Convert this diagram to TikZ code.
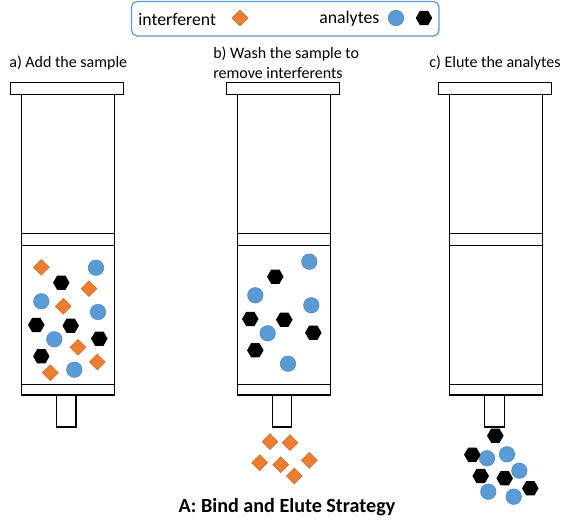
\documentclass[tikz,border=0pt]{standalone}
\usepackage{fontspec}
\setmainfont{Carlito}
\usepackage{xcolor}
\usetikzlibrary{shapes.geometric}
\definecolor{interfcol}{HTML}{ED7D31}
\definecolor{interfedge}{HTML}{C9692B}
\definecolor{analytecol}{HTML}{5B9BD5}
\definecolor{analyteedge}{HTML}{4A86BC}
\tikzset{
  wall/.style={black,line width=0.8pt},
  interf/.style={diamond,draw=interfedge,fill=interfcol,line width=0.3pt,inner sep=0pt,minimum size=0.32cm},
  bluedot/.style={circle,draw=analyteedge,fill=analytecol,line width=0.3pt,inner sep=0pt,minimum size=0.31cm},
  hexdot/.style={regular polygon,regular polygon sides=6,fill=black,inner sep=0pt,minimum size=0.33cm},
  label/.style={font=\fontsize{9.1pt}{11.4pt}\selectfont,align=left,inner sep=0pt},
  keylabel/.style={font=\fontsize{10.1pt}{12pt}\selectfont,inner sep=0pt}
}
\begin{document}
\begin{tikzpicture}[x=0.02cm,y=-0.02cm,line cap=round]
\useasboundingbox (0,0) rectangle (571,530);
% legend
\draw[analytecol,line width=0.7pt,rounded corners=3.2pt] (131.5,1.5) rectangle (439,36);
\node[keylabel,anchor=west] (legendint) at (138,19) {interferent};
\node[keylabel,anchor=west] (legendana) at (319,19) {analytes};
\node[interf] (legenddia) at (240,18) {};
\node[bluedot] (legendcir) at (396,18) {};
\node[hexdot] (legendhex) at (424,18) {};
% headings
\node[label,anchor=west] (heada) at (9,62.5) {a) Add the sample};
\node[label,anchor=west] (headb) at (213,62.5) {b) Wash the sample to\\remove interferents};
\node[label,anchor=west] (headc) at (429,62.5) {c) Elute the analytes};
\node[font=\fontsize{11.45pt}{13pt}\selectfont\bfseries,inner sep=0pt] (title) at (287,507) {A: Bind and Elute Strategy};
% syringes
\foreach \x/\t/\w in {21.5/56.5/19.5,237.5/272.5/19,449.7/484.5/20}{
  \draw[wall] (\x-11,82.5) rectangle (\x+102,94.5);
  \draw[wall] (\x,94.5) rectangle (\x+93,395);
  \draw[wall] (\x,233.5) -- (\x+93,233.5);
  \draw[wall] (\x,245.5) -- (\x+93,245.5);
  \draw[wall] (\x,384.5) -- (\x+93,384.5);
  \draw[wall] (\t,395) rectangle (\t+\w,427);
}
% syringe a
\foreach \px/\py [count=\i] in {41.3/267.3,89/288.7,63.3/306.3,78/347.3,97.3/362,50.3/372.7}
  \node[interf] (adia\i) at (\px,\py) {};
\foreach \px/\py [count=\i] in {96/267.7,41.3/301.3,98/312,54.3/339.3,74.3/369.7}
  \node[bluedot] (acir\i) at (\px,\py) {};
\foreach \px/\py [count=\i] in {61.3/282.7,36.3/325,70.7/325.7,99.3/338.7,41.3/356.3}
  \node[hexdot] (ahex\i) at (\px,\py) {};
% syringe b
\foreach \px/\py [count=\i] in {309.3/261.7,255.3/295.3,311.3/305.3,267.7/333.3,288/363.7}
  \node[bluedot] (bcir\i) at (\px,\py) {};
\foreach \px/\py [count=\i] in {275.3/276.7,250.3/319,284.3/319.7,313.3/332.7,255.3/350.3}
  \node[hexdot] (bhex\i) at (\px,\py) {};
\foreach \px/\py [count=\i] in {270/441.7,290/442.7,259.7/462.7,280.7/464.7,309.3/460.3,294.3/476}
  \node[interf] (bdia\i) at (\px,\py) {};
% syringe c
\foreach \px/\py [count=\i] in {487/458.3,507/454.3,519.3/470.7,488.3/491.7,513.7/496.7}
  \node[bluedot] (ccir\i) at (\px,\py) {};
\foreach \px/\py [count=\i] in {495.3/435.7,472.3/454.7,480.7/476,504.7/478.3,530.3/488.3}
  \node[hexdot] (chex\i) at (\px,\py) {};
\end{tikzpicture}
\end{document}
